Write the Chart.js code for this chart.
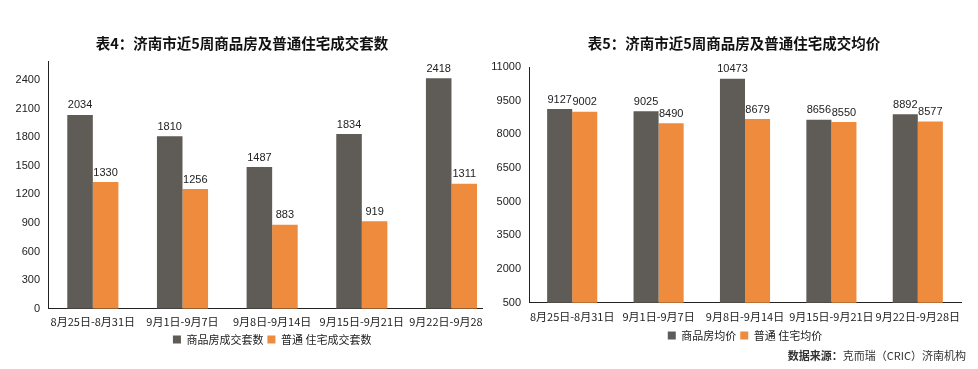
<!DOCTYPE html>
<html>
<head>
<meta charset="utf-8">
<script src="https://cdn.jsdelivr.net/npm/chart.js@4/dist/chart.umd.min.js"></script>
<style>
  html,body{margin:0;padding:0;background:#fff;}
  body{width:978px;height:369px;position:relative;overflow:hidden;}
  .box{position:absolute;top:0;height:369px;overflow:hidden;}
  .ttl{position:absolute;top:33px;width:400px;text-align:center;font-family:"Noto Sans CJK SC";font-weight:bold;font-size:14.5px;line-height:20px;color:#111;white-space:nowrap;}
  #src{position:absolute;top:347px;right:12px;font-family:"Noto Sans CJK SC";font-size:11px;color:#333;white-space:nowrap;}
  #src b{font-weight:bold;}
</style>
</head>
<body>
<div class="box" style="left:0;width:483px;"><canvas id="c1" width="500" height="369"></canvas></div>
<div class="box" style="left:488px;width:490px;"><canvas id="c2" width="490" height="369"></canvas></div>
<div class="ttl" id="t1" style="left:42px;"></div>
<div class="ttl" id="t2" style="left:534px;"></div>
<div id="src"><b>数据来源：</b>克而瑞（CRIC）济南机构</div>
<script>
// ---- data ----
const title1 = "表4：济南市近5周商品房及普通住宅成交套数";
const title2 = "表5：济南市近5周商品房及普通住宅成交均价";
const weeks1 = ["8月25日-8月31日","9月1日-9月7日","9月8日-9月14日","9月15日-9月21日","9月22日-9月28日"];
const weeks2 = ["8月25日-8月31日","9月1日-9月7日","9月8日-9月14日","9月15日-9月21日","9月22日-9月28日"];
const seriesName1a = "商品房成交套数";
const seriesName1b = "普通 住宅成交套数";
const seriesName2a = "商品房均价";
const seriesName2b = "普通 住宅均价";
const units1 = [2034, 1810, 1487, 1834, 2418];
const unitsOrdinary1 = [1330, 1256, 883, 919, 1311];
const price2 = [9127, 9025, 10473, 8656, 8892];
const priceOrdinary2 = [9002, 8490, 8679, 8550, 8577];
const ticks1 = [0, 300, 600, 900, 1200, 1500, 1800, 2100, 2400];
const ticks2 = [500, 2000, 3500, 5000, 6500, 8000, 9500, 11000];

document.getElementById('t1').textContent = title1;
document.getElementById('t2').textContent = title2;

const DARK = "#5f5b56";
const ORANGE = "#ee8b3d";
const NUMFONT = "'Liberation Sans', Arial, sans-serif";
const CJK = "'Noto Sans CJK SC', sans-serif";

const valueLabels = {
  id: 'valueLabels',
  afterDatasetsDraw(chart) {
    const ctx = chart.ctx;
    ctx.save();
    ctx.font = "11px " + NUMFONT;
    ctx.fillStyle = "#222";
    ctx.textAlign = "center";
    ctx.textBaseline = "bottom";
    chart.data.datasets.forEach((ds, i) => {
      const meta = chart.getDatasetMeta(i);
      meta.data.forEach((el, j) => {
        ctx.fillText(String(ds.data[j]), el.x, el.y - 4);
      });
    });
    ctx.restore();
  }
};

function makeChart(id, cfg) {
  return new Chart(document.getElementById(id), {
    type: 'bar',
    data: {
      labels: cfg.labels,
      datasets: [
        { label: cfg.nameA, data: cfg.a, backgroundColor: DARK, borderWidth: 0 },
        { label: cfg.nameB, data: cfg.b, backgroundColor: ORANGE, borderWidth: 0 }
      ]
    },
    options: {
      responsive: false,
      animation: false,
      layout: { padding: { left: 0, right: cfg.padRight, top: cfg.padTop, bottom: cfg.padBottom } },
      datasets: { bar: { categoryPercentage: cfg.catPct, barPercentage: 1.0 } },
      plugins: {
        title: { display: false },
        legend: {
          position: 'bottom',
          fullSize: false,
          labels: {
            color: "#222", font: { family: CJK, size: 11 },
            boxWidth: 8, boxHeight: 8, padding: 4
          }
        },
        tooltip: { enabled: false }
      },
      scales: {
        x: {
          grid: { display: false, drawTicks: false },
          border: { display: true, color: "#222", width: 1 },
          ticks: { color: "#222", font: { family: CJK, size: 11 }, maxRotation: 0, minRotation: 0, autoSkip: false, padding: cfg.xPad },
          afterFit: (s) => { s.height -= cfg.xShrink; }
        },
        y: {
          min: cfg.yMin, max: cfg.yMax,
          grid: { display: false, drawTicks: false },
          border: { display: true, color: "#222", width: 1 },
          ticks: { color: "#222", font: { family: NUMFONT, size: 11 }, padding: 8, callback: (v) => String(v) },
          afterBuildTicks: (s) => { s.ticks = cfg.ticks.map(v => ({ value: v })); },
          afterFit: (s) => { s.width = cfg.yWidth; }
        }
      }
    },
    plugins: [valueLabels]
  });
}

makeChart('c1', { labels: weeks1, a: units1, b: unitsOrdinary1, nameA: seriesName1a, nameB: seriesName1b,
  ticks: ticks1, yMin: 0, yMax: 2600, yWidth: 48, padRight: 3, padTop: 61, padBottom: 14, xPad: 6, xShrink: 4, catPct: 0.57 });
makeChart('c2', { labels: weeks2, a: price2, b: priceOrdinary2, nameA: seriesName2a, nameB: seriesName2b,
  ticks: ticks2, yMin: 500, yMax: 11000, yWidth: 41, padRight: 17, padTop: 67, padBottom: 18, xPad: 7, xShrink: 4, catPct: 0.58 });
</script>
</body>
</html>
